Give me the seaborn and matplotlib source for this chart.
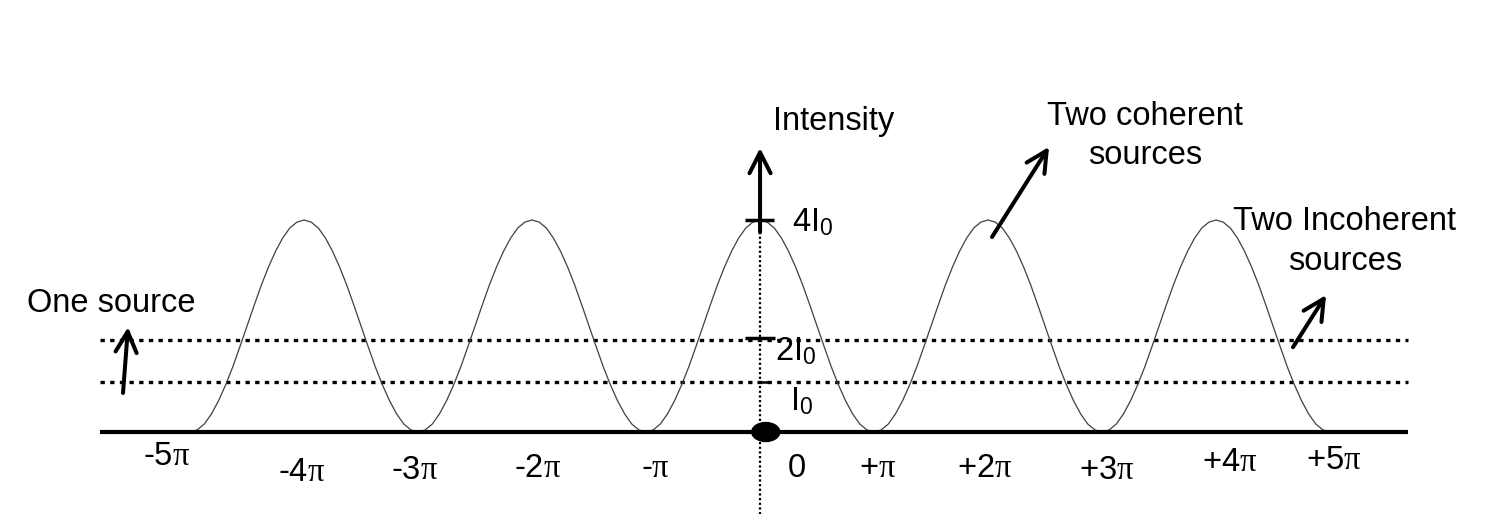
import numpy as np
import pandas as pd
import matplotlib
matplotlib.use("Agg")
import matplotlib.pyplot as plt
from matplotlib.patches import Ellipse
import seaborn as sns

# ---------------- data ----------------
# phase difference in units of pi (sampling grid) and intensity in units of I0
phase = np.linspace(-5, 5, 161)
intensity = [
    0.00, 0.04, 0.15, 0.34, 0.59, 0.89, 1.23, 1.61, 2.00, 2.39, 2.77, 3.11, 3.41, 3.66, 3.85, 3.96,
    4.00, 3.96, 3.85, 3.66, 3.41, 3.11, 2.77, 2.39, 2.00, 1.61, 1.23, 0.89, 0.59, 0.34, 0.15, 0.04,
    0.00, 0.04, 0.15, 0.34, 0.59, 0.89, 1.23, 1.61, 2.00, 2.39, 2.77, 3.11, 3.41, 3.66, 3.85, 3.96,
    4.00, 3.96, 3.85, 3.66, 3.41, 3.11, 2.77, 2.39, 2.00, 1.61, 1.23, 0.89, 0.59, 0.34, 0.15, 0.04,
    0.00, 0.04, 0.15, 0.34, 0.59, 0.89, 1.23, 1.61, 2.00, 2.39, 2.77, 3.11, 3.41, 3.66, 3.85, 3.96,
    4.00, 3.96, 3.85, 3.66, 3.41, 3.11, 2.77, 2.39, 2.00, 1.61, 1.23, 0.89, 0.59, 0.34, 0.15, 0.04,
    0.00, 0.04, 0.15, 0.34, 0.59, 0.89, 1.23, 1.61, 2.00, 2.39, 2.77, 3.11, 3.41, 3.66, 3.85, 3.96,
    4.00, 3.96, 3.85, 3.66, 3.41, 3.11, 2.77, 2.39, 2.00, 1.61, 1.23, 0.89, 0.59, 0.34, 0.15, 0.04,
    0.00, 0.04, 0.15, 0.34, 0.59, 0.89, 1.23, 1.61, 2.00, 2.39, 2.77, 3.11, 3.41, 3.66, 3.85, 3.96,
    4.00, 3.96, 3.85, 3.66, 3.41, 3.11, 2.77, 2.39, 2.00, 1.61, 1.23, 0.89, 0.59, 0.34, 0.15, 0.04,
    0.00,
]
incoherent_level = 1.74   # "2I0" dotted line (as drawn)
one_source_level = 0.94   # "I0" dotted line (as drawn)

tick_labels = [r"-5$\mathrm{\pi}$", r"-4$\mathrm{\pi}$", r"-3$\mathrm{\pi}$", r"-2$\mathrm{\pi}$",
               r"-$\mathrm{\pi}$", "0", r"+$\mathrm{\pi}$", r"+2$\mathrm{\pi}$", r"+3$\mathrm{\pi}$",
               r"+4$\mathrm{\pi}$", r"+5$\mathrm{\pi}$"]
tick_label_x = [-5.21, -4.02, -3.03, -1.95, -0.92, 0.32, 1.03, 1.97, 3.04, 4.12, 5.03]
tick_label_y = [-0.47, -0.77, -0.72, -0.68, -0.68, -0.68, -0.68, -0.68, -0.72, -0.58, -0.53]

# ---------------- style ----------------
sns.set_theme(style="white")
plt.rcParams["font.family"] = ["Liberation Sans", "DejaVu Sans"]
plt.rcParams["text.color"] = "black"
plt.rcParams["mathtext.fontset"] = "custom"
plt.rcParams["mathtext.rm"] = "Liberation Serif"
plt.rcParams["mathtext.it"] = "Liberation Serif:italic"
plt.rcParams["mathtext.sf"] = "Liberation Sans"

FS = 23.5
fig = plt.figure(figsize=(15.12, 5.14), dpi=100)
ax = fig.add_axes([0, 0, 1, 1])
ax.set_xlim(-6.667, 6.596)
ax.set_ylim(-1.547, 8.151)
ax.axis("off")

df = pd.DataFrame({"phase": phase, "intensity": intensity})
sns.lineplot(data=df, x="phase", y="intensity", ax=ax, color="#404040",
             linewidth=0.9, sort=False, zorder=3)

x_left, x_right = -5.79, 5.684
# dotted reference levels
for lvl in (incoherent_level, one_source_level):
    ax.plot([x_left, x_right], [lvl, lvl], color="black", linewidth=2.4,
            linestyle=(0, (1.3, 1.6)), dash_capstyle="butt", zorder=2)
# baseline
ax.plot([x_left, x_right], [0, 0], color="black", linewidth=3.0, solid_capstyle="butt", zorder=4)
# vertical dotted axis
ax.plot([0, 0], [3.77, -1.6], color="black", linewidth=1.6,
        linestyle=(0, (1, 1.1)), dash_capstyle="butt", zorder=4)

arrow_kw = dict(arrowstyle="->,head_length=0.75,head_width=0.38", lw=2.9, color="black",
                shrinkA=0, shrinkB=0, mutation_scale=20)
# intensity axis arrow
ax.annotate("", xy=(0, 5.36), xytext=(0, 3.77), arrowprops=arrow_kw, zorder=5)
# tick marks on the intensity axis
ax.plot([-0.13, 0.12], [4.0, 4.0], color="black", linewidth=2.5, solid_capstyle="butt", zorder=5)
ax.plot([-0.13, 0.13], [1.77, 1.77], color="black", linewidth=2.5, solid_capstyle="butt", zorder=5)
ax.plot([-0.03, 0.10], [0.943, 0.943], color="black", linewidth=1.8, solid_capstyle="butt", zorder=5)

# origin ellipse
ax.add_patch(Ellipse((0.05, 0), 0.246, 0.358, facecolor="black", edgecolor="black", zorder=6))

# axis labels
ax.text(0.11, 5.85, "Intensity", fontsize=FS, ha="left", va="center")
ax.text(0.28, 3.95, r"4I$_{\mathsf{0}}$", fontsize=FS, ha="left", va="center")
ax.text(0.13, 1.53, r"2I$_{\mathsf{0}}$", fontsize=FS, ha="left", va="center")
ax.text(0.26, 0.57, r"I$_{\mathsf{0}}$", fontsize=FS, ha="left", va="center")

for lab, lx, ly in zip(tick_labels, tick_label_x, tick_label_y):
    ax.text(lx, ly, lab, fontsize=FS, ha="center", va="center")

# annotations
ax.text(-5.69, 2.42, "One source", fontsize=FS, ha="center", va="center")
ax.annotate("", xy=(-5.544, 1.98), xytext=(-5.588, 0.736), arrowprops=arrow_kw)

ax.text(3.38, 5.58, "Two coherent\nsources", fontsize=FS, ha="center", va="center",
        multialignment="center", linespacing=1.34)
ax.annotate("", xy=(2.535, 5.38), xytext=(2.035, 3.68), arrowprops=arrow_kw)

ax.text(5.13, 3.59, "Two Incoherent\nsources", fontsize=FS, ha="center", va="center",
        multialignment="center", linespacing=1.38)
ax.annotate("", xy=(4.965, 2.585), xytext=(4.675, 1.60), arrowprops=arrow_kw)

fig.savefig("out.png", dpi=100, facecolor="white")
